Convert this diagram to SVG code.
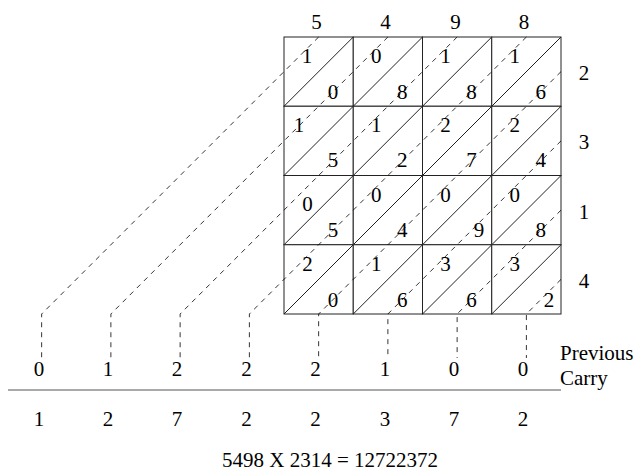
<svg xmlns="http://www.w3.org/2000/svg" width="635" height="473" viewBox="0 0 635 473">
<style>
text{font-family:"Liberation Serif",Tinos,"Times New Roman",Times,"Nimbus Roman","Nimbus Roman No9 L",FreeSerif,"DejaVu Serif","Noto Serif",serif;font-size:21px;fill:#000;text-anchor:middle}
.cell{fill:#fff;stroke:#222;stroke-width:1}
.diag{stroke:#222;stroke-width:1;fill:none}
.lane{stroke:#000;stroke-width:0.8;fill:none;stroke-dasharray:5,5}
.rule{stroke:#555;stroke-width:1.2}
.lbl{text-anchor:start}
</style>
<rect width="635" height="473" fill="#fff"/>
<g id="grid">
<g id="c11"><rect class="cell" x="284" y="37" width="69.25" height="69.25"/><line class="diag" x1="284" y1="106.25" x2="353.25" y2="37"/><text x="307" y="63">1</text><text x="333" y="98.5">0</text></g>
<g id="c12"><rect class="cell" x="353.25" y="37" width="69.25" height="69.25"/><line class="diag" x1="353.25" y1="106.25" x2="422.5" y2="37"/><text x="376.25" y="63">0</text><text x="402.25" y="98.5">8</text></g>
<g id="c13"><rect class="cell" x="422.5" y="37" width="69.25" height="69.25"/><line class="diag" x1="422.5" y1="106.25" x2="491.75" y2="37"/><text x="445.5" y="63">1</text><text x="471.5" y="98.5">8</text></g>
<g id="c14"><rect class="cell" x="491.75" y="37" width="69.25" height="69.25"/><line class="diag" x1="491.75" y1="106.25" x2="561" y2="37"/><text x="514.75" y="63">1</text><text x="540.75" y="98.5">6</text></g>
<g id="c21"><rect class="cell" x="284" y="106.25" width="69.25" height="69.25"/><line class="diag" x1="284" y1="175.5" x2="353.25" y2="106.25"/><text x="299" y="132">1</text><text x="333" y="167">5</text></g>
<g id="c22"><rect class="cell" x="353.25" y="106.25" width="69.25" height="69.25"/><line class="diag" x1="353.25" y1="175.5" x2="422.5" y2="106.25"/><text x="376.25" y="132">1</text><text x="402.25" y="167">2</text></g>
<g id="c23"><rect class="cell" x="422.5" y="106.25" width="69.25" height="69.25"/><line class="diag" x1="422.5" y1="175.5" x2="491.75" y2="106.25"/><text x="445.5" y="132">2</text><text x="471.5" y="167">7</text></g>
<g id="c24"><rect class="cell" x="491.75" y="106.25" width="69.25" height="69.25"/><line class="diag" x1="491.75" y1="175.5" x2="561" y2="106.25"/><text x="514.75" y="132">2</text><text x="540.75" y="167">4</text></g>
<g id="c31"><rect class="cell" x="284" y="175.5" width="69.25" height="69.25"/><line class="diag" x1="284" y1="244.75" x2="353.25" y2="175.5"/><text x="307.5" y="210.5">0</text><text x="333" y="237">5</text></g>
<g id="c32"><rect class="cell" x="353.25" y="175.5" width="69.25" height="69.25"/><line class="diag" x1="353.25" y1="244.75" x2="422.5" y2="175.5"/><text x="376.25" y="202">0</text><text x="402.25" y="237">4</text></g>
<g id="c33"><rect class="cell" x="422.5" y="175.5" width="69.25" height="69.25"/><line class="diag" x1="422.5" y1="244.75" x2="491.75" y2="175.5"/><text x="445.5" y="202">0</text><text x="479" y="237">9</text></g>
<g id="c34"><rect class="cell" x="491.75" y="175.5" width="69.25" height="69.25"/><line class="diag" x1="491.75" y1="244.75" x2="561" y2="175.5"/><text x="514.75" y="202">0</text><text x="540.75" y="237">8</text></g>
<g id="c41"><rect class="cell" x="284" y="244.75" width="69.25" height="69.25"/><line class="diag" x1="284" y1="314" x2="353.25" y2="244.75"/><text x="307.5" y="271">2</text><text x="333" y="307">0</text></g>
<g id="c42"><rect class="cell" x="353.25" y="244.75" width="69.25" height="69.25"/><line class="diag" x1="353.25" y1="314" x2="422.5" y2="244.75"/><text x="376.25" y="271">1</text><text x="402.25" y="307">6</text></g>
<g id="c43"><rect class="cell" x="422.5" y="244.75" width="69.25" height="69.25"/><line class="diag" x1="422.5" y1="314" x2="491.75" y2="244.75"/><text x="445.5" y="271">3</text><text x="471.5" y="307">6</text></g>
<g id="c44"><rect class="cell" x="491.75" y="244.75" width="69.25" height="69.25"/><line class="diag" x1="491.75" y1="314" x2="561" y2="244.75"/><text x="514.75" y="271">3</text><text x="549" y="307">2</text></g>
</g>
<g id="connectors">
<path class="lane" d="M318.625 37 L41.625 314 L41.625 358"/>
<path class="lane" d="M387.875 37 L110.875 314 L110.875 358"/>
<path class="lane" d="M457.125 37 L180.125 314 L180.125 358"/>
<path class="lane" d="M526.375 37 L249.375 314 L249.375 358"/>
<path class="lane" d="M561 71.625 L318.625 314 L318.625 358"/>
<path class="lane" d="M561 140.875 L387.875 314 L387.875 358"/>
<path class="lane" d="M561 210.125 L457.125 314 L457.125 358"/>
<path class="lane" d="M561 279.375 L526.375 314 L526.375 358"/>
</g>
<g id="top-labels">
<text x="316.5" y="29">5</text><text x="385.5" y="29">4</text><text x="455.5" y="29">9</text><text x="524" y="29">8</text>
</g>
<g id="right-labels">
<text x="584" y="80">2</text><text x="584" y="149">3</text><text x="584" y="218.5">1</text><text x="584" y="287.5">4</text>
</g>
<g id="carry">
<text x="39" y="376">0</text><text x="108" y="376">1</text><text x="177" y="376">2</text><text x="246.5" y="376">2</text><text x="315.5" y="376">2</text><text x="385" y="376">1</text><text x="454" y="376">0</text><text x="523" y="376">0</text>
<text class="lbl" x="560" y="360">Previous</text><text class="lbl" x="560" y="385">Carry</text>
</g>
<line class="rule" x1="8" y1="390" x2="561" y2="390"/>
<g id="result">
<text x="39" y="426">1</text><text x="108" y="426">2</text><text x="177" y="426">7</text><text x="246.5" y="426">2</text><text x="315.5" y="426">2</text><text x="385" y="426">3</text><text x="454" y="426">7</text><text x="523" y="426">2</text>
</g>
<text id="equation" x="330" y="467">5498 X 2314 = 12722372</text>
</svg>
